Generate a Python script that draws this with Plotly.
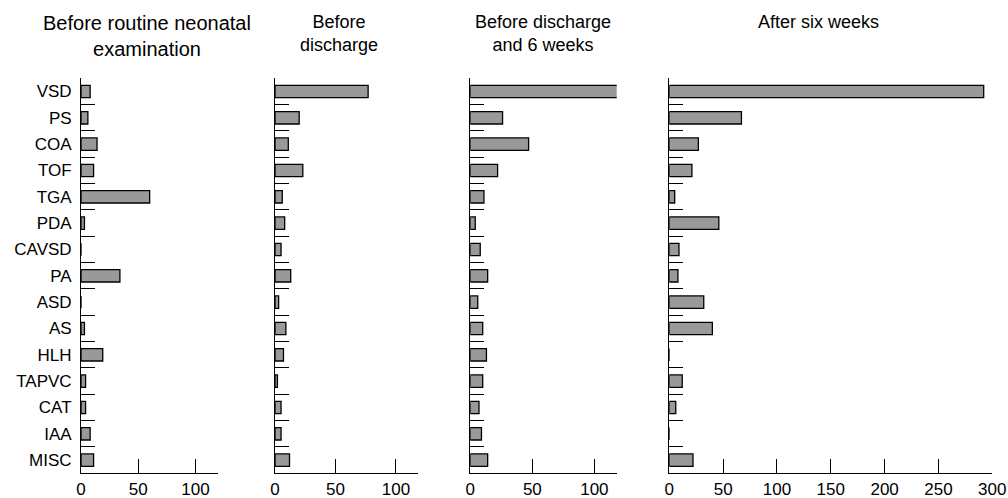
import plotly.graph_objects as go

categories = ["VSD", "PS", "COA", "TOF", "TGA", "PDA", "CAVSD", "PA",
              "ASD", "AS", "HLH", "TAPVC", "CAT", "IAA", "MISC"]

before_routine = [8, 6, 14, 11, 60, 3, 0, 34, 0, 3, 19, 4, 4, 8, 11]
before_discharge = [77, 20, 11, 23, 6, 8, 5, 13, 3, 9, 7, 2, 5, 5, 12]
discharge_6wk = [119, 26, 47, 22, 11, 4, 8, 14, 6, 10, 13, 10, 7, 9, 14]
after_6wk = [292, 67, 27, 21, 5, 46, 9, 8, 32, 40, 0, 12, 6, 0, 22]

titles = ["Before routine neonatal<br>examination", "Before<br>discharge",
          "Before discharge<br>and 6 weeks", "After six weeks"]
x_ranges = [[0, 120], [0, 118], [0, 118], [0, 300]]
x_ticks = [[0, 50, 100], [0, 50, 100], [0, 50, 100], [0, 50, 100, 150, 200, 250, 300]]

# body margin is removed by the post script, so the figure fills the window
W, H = 1008, 498
px_domains = [(81, 218.3), (275, 417.7), (470.3, 616.7), (669.3, 992.3)]
title_cx = [147, 339, 543, 818]
title_size = [20, 18, 18, 18]
y_top, y_bot = 78.3, 473.3

FONT = "Liberation Sans, Arial, sans-serif"
series = [before_routine, before_discharge, discharge_6wk, after_6wk]


def fx(p):
    return p / W


def fy(p):
    return 1 - p / H


fig = go.Figure()
layout = dict(
    width=W, height=H,
    margin=dict(l=0, r=0, t=0, b=0, autoexpand=False),
    paper_bgcolor="white", plot_bgcolor="white",
    showlegend=False, bargap=0.53,
    font=dict(family=FONT, color="black"),
    annotations=[],
)

for i, vals in enumerate(series):
    n = "" if i == 0 else str(i + 1)
    fig.add_trace(go.Bar(
        x=vals, y=categories, orientation="h",
        xaxis="x" + n, yaxis="y" + n,
        marker=dict(color="#999999", line=dict(color="black", width=1.3)),
        hoverinfo="x+y",
    ))
    d0, d1 = px_domains[i]
    layout["xaxis" + n] = dict(
        domain=[fx(d0), fx(d1)], range=x_ranges[i], anchor="y" + n,
        tickvals=x_ticks[i], ticks="inside", ticklen=14, tickwidth=1,
        tickcolor="black", showline=True, linecolor="black", linewidth=1,
        showgrid=False, zeroline=False, tickfont=dict(size=17, family=FONT),
        ticklabelstandoff=0, automargin=False,
    )
    layout["yaxis" + n] = dict(
        domain=[fy(y_bot), fy(y_top)], anchor="x" + n,
        type="category", categoryorder="array", categoryarray=categories,
        autorange="reversed", tickson="boundaries", ticks="inside",
        ticklen=14, tickwidth=1, tickcolor="black",
        showline=True, linecolor="black", linewidth=1, showgrid=False,
        zeroline=False, showticklabels=(i == 0),
        tickfont=dict(size=17, family=FONT), ticklabelstandoff=5,
        automargin=False,
    )
    layout["annotations"].append(dict(
        text=titles[i], xref="paper", yref="paper",
        x=fx(title_cx[i]), y=fy(10), xanchor="center", yanchor="top",
        showarrow=False, font=dict(size=title_size[i], family=FONT, color="black"),
        align="center",
    ))

fig.update_layout(**layout)
fig.write_html(
    "out.html",
    config={"displayModeBar": False},
    post_script="document.body.style.margin='0';document.body.style.overflow='hidden';",
)
